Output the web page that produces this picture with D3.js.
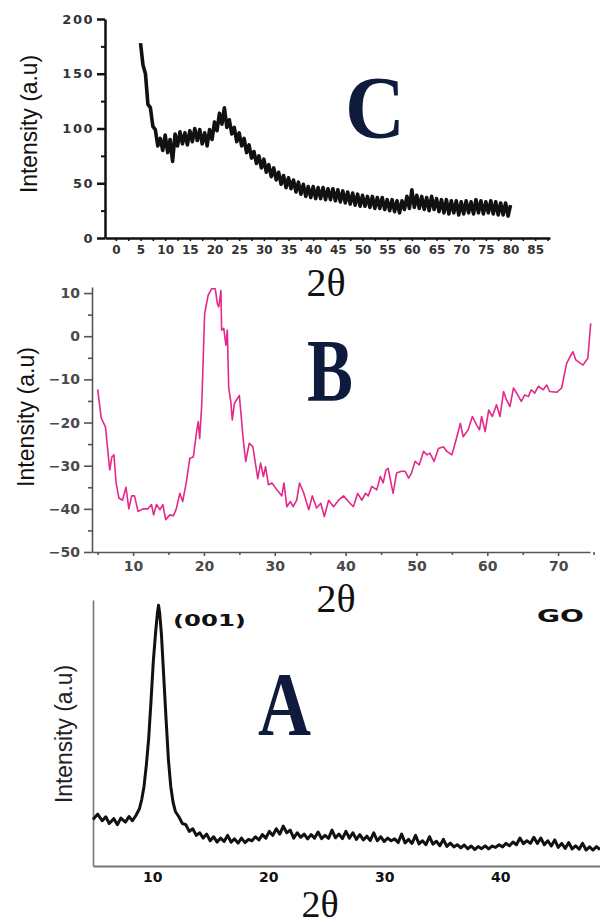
<!DOCTYPE html>
<html>
<head>
<meta charset="utf-8">
<script src="https://cdn.jsdelivr.net/npm/d3@7"></script>
<style>
  html, body { margin: 0; padding: 0; background: #fff; }
  svg { display: block; }
</style>
</head>
<body>
<svg id="chart" width="600" height="924"></svg>
<script>
// ---------------- DATA ----------------
// Panel C (black, noisy): 2θ from 5 to 80 in 0.5° steps
const cTheta = d3.range(0, 151).map(i => 5 + i * 0.5);
const cIntensity = [
  178,158,150,122,119,102,99,84,91,80,
  94,78,90,70,95,84,97,86,96,85,
  98,88,100,89,99,86,96,84,99,90,
  106,98,114,104,119,101,108,95,101,88,
  96,84,91,78,85,73,79,68,75,64,
  72,60,67,56,64,53,60,49,57,46,
  55,45,53,42,51,40,49,38,47,37,
  47,36,46,36,46,35,45,35,45,34,
  44,33,43,32,42,31,41,30,40,29,
  39,29,38,28,38,27,37,27,37,26,
  35,25,35,24,34,23,34,26,38,27,
  44,28,39,27,38,26,37,25,38,26,
  36,24,35,23,35,22,34,23,34,21,
  33,22,34,23,33,22,35,23,34,22,
  33,23,34,22,33,21,32,21,32,20,
  30
];
const cXTicks = d3.range(0, 90, 5);
const cYTicks = [0, 50, 100, 150, 200];

// Panel B (pink)
const bTheta = [
  5.0,5.5,6.1,6.7,7.0,7.3,7.6,8.0,8.5,9.0,9.4,9.8,10.2,10.7,11.4,12.1,12.6,12.9,13.3,13.8,
  14.2,14.6,15.2,15.7,16.1,16.6,17.0,17.5,18.0,18.5,19.0,19.2,19.4,19.7,20.1,20.6,21.1,21.6,21.9,22.1,
  22.4,22.5,22.8,23.1,23.3,23.5,23.8,24.0,24.3,25.0,25.6,25.9,26.4,26.9,27.2,27.6,28.0,28.4,28.7,29.1,
  29.6,30.3,31.0,31.3,31.7,32.2,32.6,33.1,33.5,34.1,34.8,35.3,35.9,36.5,37.0,37.6,38.3,39.0,39.7,40.4,
  41.1,41.7,42.3,42.8,43.2,43.7,44.4,44.9,45.3,45.7,46.0,46.7,47.2,47.9,48.4,48.9,49.3,49.8,50.4,51.0,
  51.5,51.9,52.5,53.1,53.8,54.3,55.0,55.6,56.2,56.6,57.3,57.9,58.5,58.9,59.2,59.7,60.2,60.7,61.3,61.8,
  62.3,62.7,63.2,63.7,64.3,64.8,65.3,65.8,66.2,66.7,67.2,67.9,68.4,68.8,69.8,70.5,71.2,71.7,72.1,72.5,
  73.5,74.2,74.6
];
const bIntensity = [
  -12.3,-19,-21,-31,-28,-27.5,-34,-37.5,-38,-35,-40,-37,-37,-40.6,-40,-40,-39,-41.4,-39,-40.2,
  -39,-42.5,-41.4,-41.6,-40,-36.4,-38.3,-34,-28.3,-28,-21.7,-19.8,-23.7,-15.6,5.2,9.5,11,11,7.5,6.8,
  10.6,1.4,1.8,-2.1,1.4,-12,-15.2,-19.4,-15.6,-13.7,-24.8,-29,-24.8,-25.6,-28.7,-33,-29.4,-32.5,-30.2,-34.4,
  -34,-35.6,-37,-34,-39.5,-38.3,-39.5,-38,-34,-36.4,-40.2,-37,-39.8,-38.7,-41.8,-38,-39.5,-38,-37,-38.3,
  -39.5,-36.4,-38,-36.4,-37,-34.8,-35.6,-32.5,-34,-31,-30.6,-36.4,-31.7,-31.3,-31.3,-32.9,-31.7,-29,-29.8,-26.7,
  -27.5,-27.1,-29,-26,-25.6,-26.7,-27.5,-24,-20.2,-23.3,-21.7,-18.6,-20.6,-21.7,-18.6,-22.1,-17.1,-18.6,-15.9,-18.6,
  -12.8,-14.7,-16.3,-12,-13.6,-15.1,-13.6,-14,-12.4,-13.2,-11.6,-12.4,-11.3,-12.8,-13,-12,-6.3,-4.7,-3.6,-5.5,
  -6.7,-5.1,3
];
const bXTicks = [10, 20, 30, 40, 50, 60, 70];
const bXMinor = [5, 15, 25, 35, 45, 55, 65, 75];
const bYTicks = [-50, -40, -30, -20, -10, 0, 10];
const bYMinor = [-45, -35, -25, -15, -5, 5];

// Panel A (GO, black)
const aTheta = [
  4.9,5.3,5.7,6.0,6.3,6.7,7.0,7.3,7.7,8.0,8.3,8.6,8.9,9.1,9.3,9.5,9.7,9.9,10.1,10.3,
  10.45,10.55,10.65,10.8,11.0,11.2,11.4,11.6,11.8,12.0,12.3,12.6,12.9,13.2,13.5,13.8,14.1,14.4,14.7,15.0,
  15.3,15.6,15.9,16.2,16.5,16.8,17.1,17.4,17.7,18.0,18.3,18.6,18.9,19.2,19.5,19.8,20.1,20.4,20.7,21.0,
  21.3,21.6,21.9,22.2,22.5,22.8,23.1,23.4,23.7,24.0,24.3,24.6,24.9,25.2,25.5,25.8,26.1,26.4,26.7,27.0,
  27.3,27.6,27.9,28.2,28.5,28.8,29.1,29.4,29.7,30.0,30.3,30.6,30.9,31.2,31.5,31.8,32.1,32.4,32.7,33.0,
  33.3,33.6,33.9,34.2,34.5,34.8,35.1,35.4,35.7,36.0,36.3,36.6,36.9,37.2,37.5,37.8,38.1,38.4,38.7,39.0,
  39.3,39.6,39.9,40.2,40.5,40.8,41.1,41.4,41.7,42.0,42.3,42.6,42.9,43.2,43.5,43.8,44.1,44.4,44.7,45.0,
  45.3,45.6,45.9,46.2,46.5,46.8,47.1,47.4,47.7,48.0,48.3,48.6
];
const aIntensity = [
  17.5,19.5,17,18.5,16,17.8,15.5,18,16.5,18.6,17,19,21.5,25,30,38,48,62,77,88,
  95,98,95,87,71,55,40,30,24,20.5,18.5,16,15.5,13,14,11.5,12.5,10.5,12,9.5,
  11,9,10.5,9.2,11.5,9,10.2,8.6,10.5,8.8,10,9.5,11,9.8,11.8,10.5,13,11.5,14,12,
  15,12.5,13.5,10.5,12.5,10.8,12,10.2,11.8,10.5,12.8,10.3,11.5,10.4,13.5,10.6,12,10.3,13,10.5,
  12.5,10,11.8,9.8,11.2,9.6,12.5,9.5,11,9.2,10.5,9.5,10.2,8.8,12,8.7,10,8.5,11.5,8.3,
  9.5,8,11,8.2,9.3,7.6,10,7.4,8.6,7.2,8,6.8,7.9,6.5,7.5,6.2,7.3,6.5,7.6,6.4,
  7.5,7,8,7.2,8.5,7.6,9,8,10.5,8.4,9.5,8.5,10.8,8.5,10.5,8,9.5,7.5,9.8,7,
  8.5,6.6,8.8,6.4,7.6,6.3,8.5,6,7.2,6,7.3,6.2
];
const aXTicks = [10, 20, 30, 40];

// ---------------- DRAW ----------------
const svg = d3.select("#chart");
const tickFont = "'DejaVu Sans', Verdana, sans-serif";
const serif = "'Liberation Serif', 'Times New Roman', serif";
const narrow = "'Liberation Sans Narrow', 'Liberation Sans', Arial, sans-serif";
const letterColor = "#0f1b3d";

function styleAxis(g, color, width, fontSize, fill) {
  g.select(".domain").attr("stroke", color).attr("stroke-width", width);
  g.selectAll(".tick line").attr("stroke", color).attr("stroke-width", width);
  g.selectAll(".tick text")
    .attr("font-family", tickFont).attr("font-weight", "bold")
    .attr("font-size", fontSize).attr("fill", fill);
}

// ===== Panel C =====
const xC = d3.scaleLinear().domain([-2.2, 88]).range([105, 550]);
const yC = d3.scaleLinear().domain([0, 200]).range([238, 19]);

const gCx = svg.append("g").attr("transform", `translate(0,${yC(0)})`)
  .call(d3.axisBottom(xC).tickValues(cXTicks).tickSize(3).tickSizeOuter(0).tickPadding(4));
styleAxis(gCx, "#111", 2.5, 12, "#333");
gCx.selectAll(".tick line").attr("stroke-width", 1.5);
svg.append("g").attr("transform", `translate(0,${yC(0)})`)
  .call(d3.axisBottom(xC).tickValues(cXTicks.map(v => v + 2.5)).tickSize(3).tickFormat(""))
  .call(g => { g.select(".domain").remove(); g.selectAll(".tick line").attr("stroke", "#111").attr("stroke-width", 1.5); });

const gCy = svg.append("g").attr("transform", `translate(${xC(-2.2)},0)`)
  .call(d3.axisLeft(yC).tickValues(cYTicks).tickSize(8).tickSizeOuter(0).tickPadding(3));
styleAxis(gCy, "#111", 2.5, 13, "#333");
gCy.selectAll(".tick text").attr("letter-spacing", 1.5);
svg.append("g").attr("transform", `translate(${xC(-2.2)},0)`)
  .call(d3.axisLeft(yC).tickValues([25, 75, 125, 175]).tickSize(4).tickFormat(""))
  .call(g => { g.select(".domain").remove(); g.selectAll(".tick line").attr("stroke", "#111").attr("stroke-width", 2); });

svg.append("path")
  .datum(cTheta.map((t, i) => [t, cIntensity[i]]))
  .attr("fill", "none").attr("stroke", "#111").attr("stroke-width", 3.6)
  .attr("stroke-linejoin", "round")
  .attr("d", d3.line().x(d => xC(d[0])).y(d => yC(d[1])));

svg.append("text").attr("transform", "translate(37,124) rotate(-90)")
  .attr("text-anchor", "middle").attr("font-family", narrow).attr("font-size", 24)
  .attr("fill", "#111").attr("textLength", 138).attr("lengthAdjust", "spacingAndGlyphs")
  .text("Intensity (a.u)");
svg.append("text").attr("x", 345).attr("y", 137)
  .attr("font-family", serif).attr("font-weight", "bold").attr("font-size", 88)
  .attr("fill", letterColor).attr("textLength", 60).attr("lengthAdjust", "spacingAndGlyphs")
  .text("C");
svg.append("text").attr("x", 326).attr("y", 296).attr("text-anchor", "middle")
  .attr("font-family", serif).attr("font-size", 40).attr("fill", "#111").text("2θ");

// ===== Panel B =====
const xB = d3.scaleLinear().domain([4.2, 74.5]).range([92, 590]);
const yB = d3.scaleLinear().domain([-50, 11.4]).range([552, 287]);
const bGray = "#555";

const gBx = svg.append("g").attr("transform", `translate(0,${yB(-50)})`)
  .call(d3.axisBottom(xB).tickValues(bXTicks).tickSize(4).tickSizeOuter(0).tickPadding(5));
styleAxis(gBx, bGray, 1.6, 14, "#4a4a4a");
svg.append("g").attr("transform", `translate(0,${yB(-50)})`)
  .call(d3.axisBottom(xB).tickValues(bXMinor).tickSize(3).tickFormat(""))
  .call(g => { g.select(".domain").remove(); g.selectAll(".tick line").attr("stroke", bGray).attr("stroke-width", 1.6); });

const gBy = svg.append("g").attr("transform", `translate(${xB(4.2)},0)`)
  .call(d3.axisLeft(yB).tickValues(bYTicks).tickSize(8).tickSizeOuter(0).tickPadding(4));
styleAxis(gBy, bGray, 1.6, 14, "#4a4a4a");
svg.append("g").attr("transform", `translate(${xB(4.2)},0)`)
  .call(d3.axisLeft(yB).tickValues(bYMinor).tickSize(4).tickFormat(""))
  .call(g => { g.select(".domain").remove(); g.selectAll(".tick line").attr("stroke", bGray).attr("stroke-width", 1.6); });

svg.append("path")
  .datum(bTheta.map((t, i) => [t, bIntensity[i]]))
  .attr("fill", "none").attr("stroke", "#e4288a").attr("stroke-width", 1.6)
  .attr("stroke-linejoin", "round")
  .attr("d", d3.line().x(d => xB(d[0])).y(d => yB(d[1])));

svg.append("text").attr("transform", "translate(34,417) rotate(-90)")
  .attr("text-anchor", "middle").attr("font-family", narrow).attr("font-size", 24)
  .attr("fill", "#111").attr("textLength", 140).attr("lengthAdjust", "spacingAndGlyphs")
  .text("Intensity (a.u)");
svg.append("text").attr("x", 307).attr("y", 400)
  .attr("font-family", serif).attr("font-weight", "bold").attr("font-size", 88)
  .attr("fill", letterColor).attr("textLength", 46).attr("lengthAdjust", "spacingAndGlyphs")
  .text("B");
svg.append("text").attr("x", 336).attr("y", 612).attr("text-anchor", "middle")
  .attr("font-family", serif).attr("font-size", 40).attr("fill", "#111").text("2θ");

// ===== Panel A =====
const xA = d3.scaleLinear().domain([4.9, 48.6]).range([93, 600]);
const yA = d3.scaleLinear().domain([0, 100]).range([866, 600]);

const gAx = svg.append("g").attr("transform", `translate(0,${yA(0)})`)
  .call(d3.axisBottom(xA).tickValues(aXTicks).tickSize(0).tickSizeOuter(0).tickPadding(6));
styleAxis(gAx, "#777", 2, 14, "#111");
const gAy = svg.append("g").attr("transform", `translate(${xA(4.9)},0)`)
  .call(d3.axisLeft(yA).tickValues([]).tickSize(0).tickSizeOuter(0));
styleAxis(gAy, "#777", 1.6, 14, "#111");

svg.append("path")
  .datum(aTheta.map((t, i) => [t, aIntensity[i]]))
  .attr("fill", "none").attr("stroke", "#111").attr("stroke-width", 3)
  .attr("stroke-linejoin", "round")
  .attr("d", d3.line().x(d => xA(d[0])).y(d => yA(d[1])));

svg.append("text").attr("transform", "translate(72,734) rotate(-90)")
  .attr("text-anchor", "middle").attr("font-family", narrow).attr("font-size", 23)
  .attr("fill", "#222").attr("textLength", 138).attr("lengthAdjust", "spacingAndGlyphs")
  .text("Intensity (a.u)");
svg.append("text").attr("x", 173).attr("y", 626)
  .attr("font-family", tickFont).attr("font-weight", "bold").attr("font-size", 16)
  .attr("fill", "#111").attr("textLength", 73).attr("lengthAdjust", "spacingAndGlyphs")
  .text("(001)");
svg.append("text").attr("x", 537).attr("y", 622)
  .attr("font-family", tickFont).attr("font-weight", "bold").attr("font-size", 18)
  .attr("fill", "#111").attr("textLength", 47).attr("lengthAdjust", "spacingAndGlyphs")
  .text("GO");
svg.append("text").attr("x", 258).attr("y", 735)
  .attr("font-family", serif).attr("font-weight", "bold").attr("font-size", 90)
  .attr("fill", letterColor).attr("textLength", 53).attr("lengthAdjust", "spacingAndGlyphs")
  .text("A");
svg.append("text").attr("x", 320).attr("y", 917).attr("text-anchor", "middle")
  .attr("font-family", serif).attr("font-size", 38).attr("fill", "#111").text("2θ");
</script>
</body>
</html>
